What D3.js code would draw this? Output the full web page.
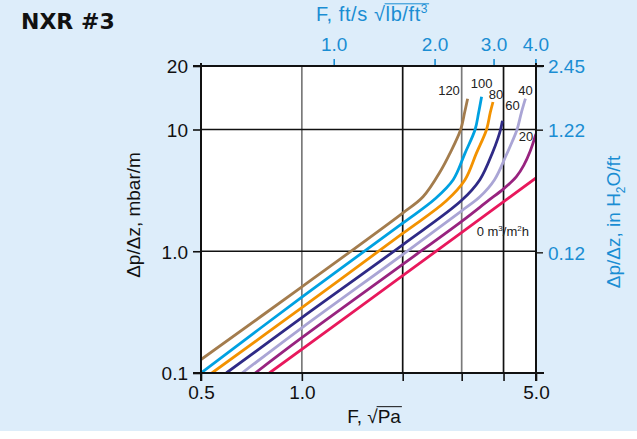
<!DOCTYPE html>
<html><head><meta charset="utf-8">
<script src="https://cdn.jsdelivr.net/npm/d3@7"></script>
<style>
body{margin:0;background:#fff}
svg{display:block}
</style>
</head><body>
<svg id="c" width="637" height="439" font-family="'Liberation Sans',Arial,Helvetica,sans-serif"></svg>
<script>
// ---------- data ----------
const loadLabels = ["0", "20", "40", "60", "80", "100", "120"];   // liquid load, m3/m2h
// each series: [F (sqrt Pa), dp/dz (mbar/m)]
const series0   = [[0.8,0.1],[2.0,0.63],[5.0,4.0]];
const series20  = [[0.726,0.1],[1.0,0.195],[2.0,0.78],[3.0,1.76],[3.6,2.6],[4.0,3.25],[4.37,4.1],[4.6,5.1],[4.8,6.6],[5.0,9.2]];
const series40  = [[0.663,0.1],[1.0,0.235],[2.0,0.94],[3.0,2.15],[3.4,2.8],[3.76,3.87],[4.08,6.2],[4.25,8.0],[4.39,10],[4.52,12],[4.65,14]];
const series60  = [[0.595,0.1],[1.0,0.285],[2.0,1.13],[3.0,2.62],[3.4,3.87],[3.72,6.6],[3.85,8.5],[3.92,10],[3.97,11]];
const series80  = [[0.539,0.1],[1.0,0.345],[2.0,1.40],[2.7,2.6],[3.07,3.87],[3.32,6.4],[3.56,10],[3.65,12],[3.72,13.5]];
const series100 = [[0.5,0.1],[1.0,0.42],[2.0,1.70],[2.5,2.7],[2.83,3.87],[3.07,6.4],[3.29,10],[3.37,12],[3.44,14.3]];
const series120 = [[0.5,0.129],[1.0,0.51],[2.0,2.06],[2.3,2.8],[2.6,4.6],[2.77,6.4],[2.98,10],[3.06,12],[3.125,14]];
const allSeries = [series0, series20, series40, series60, series80, series100, series120];

const bottomTicks  = [0.5, 1, 2, 3, 4, 5];
const bottomLabels = ["0.5", "1.0", "", "", "", "5.0"];
const leftTicks    = [0.1, 1, 10, 20];
const leftLabels   = ["0.1", "1.0", "10", "20"];
const topTicks     = [1, 2, 3, 4];            // F in ft/s sqrt(lb/ft3)
const topLabels    = ["1.0", "2.0", "3.0", "4.0"];
const rightTicks   = [2.45, 1.22, 0.12];      // in H2O/ft
const gridXValues  = [1, 2, 3, 4];
const gridYValues  = [1, 10];
const F_US_TO_SI   = 1.245;                   // sqrt(Pa) per ft/s sqrt(lb/ft3) (as drawn)
const INH2O_PER_MBAR = 0.1224;

// ---------- styles ----------
const colors = ["#e8185c", "#98237f", "#aaa5d5", "#2f2a86", "#f39200", "#00a1e1", "#a37c4d"];
const gridColors = ["#7a7a7a", "#111", "#7a7a7a", "#111"];
const BLUE = "#1a8dd3";
const BG = "#ddedfa";

const svg = d3.select("#c");
svg.append("rect").attr("x",0).attr("y",0).attr("width",637).attr("height",431).attr("fill",BG);

const L = 201, R = 536, T = 66, B = 373;
const x = d3.scaleLog().domain([0.5, 5]).range([L, R]);
const y = d3.scaleLog().domain([0.1, 10, 20]).range([B, 129.5, T]);

svg.append("rect").attr("x",L).attr("y",T).attr("width",R-L).attr("height",B-T).attr("fill","#fff");

// grid
svg.append("g").selectAll("line").data(gridXValues).join("line")
  .attr("x1", d=>x(d)).attr("x2", d=>x(d)).attr("y1", T).attr("y2", B)
  .attr("stroke", (d,i)=>gridColors[i]).attr("stroke-width", 1.7);
svg.append("g").selectAll("line").data(gridYValues).join("line")
  .attr("x1", L).attr("x2", R).attr("y1", d=>y(d)).attr("y2", d=>y(d))
  .attr("stroke", "#111").attr("stroke-width", 1.5);

// curves
svg.append("defs").append("clipPath").attr("id","clip")
  .append("rect").attr("x",L).attr("y",T).attr("width",R-L).attr("height",B-T);
const line = d3.line().x(d=>x(d[0])).y(d=>y(d[1])).curve(d3.curveCatmullRom.alpha(0.5));
svg.append("g").attr("clip-path","url(#clip)").selectAll("path").data(allSeries).join("path")
  .attr("d", line).attr("fill","none").attr("stroke",(d,i)=>colors[i]).attr("stroke-width",2.8)
  .attr("stroke-linecap","butt");

// curve labels (placed next to each curve's last point)
const labelOffsets = [null, [-10,7], [0,-3.7], [10,-10.8], [3,-3], [0,-8.4], [-18.6,-3.7]];
allSeries.forEach((s,i)=>{
  if (i===0) return;
  const p = s[s.length-1];
  svg.append("text").attr("x", x(p[0]) + labelOffsets[i][0]).attr("y", y(p[1]) + labelOffsets[i][1])
    .attr("text-anchor","middle").attr("font-size",13).attr("fill","#222").text(loadLabels[i]);
});
// label for zero load
{
  const t = svg.append("text").attr("x", x(3.98)).attr("y", y(1.33)).attr("text-anchor","middle")
    .attr("font-size",13).attr("fill","#222");
  t.append("tspan").text(loadLabels[0] + " m");
  t.append("tspan").attr("font-size",8).attr("dy",-5).text("3");
  t.append("tspan").attr("dy",5).text("/m");
  t.append("tspan").attr("font-size",8).attr("dy",-5).text("2");
  t.append("tspan").attr("dy",5).text("h");
}

// axes
const fs = 19;
const gB = svg.append("g").attr("transform",`translate(0,${B})`)
  .call(d3.axisBottom(x).tickValues(bottomTicks).tickFormat((d,i)=>bottomLabels[i]).tickSize(8).tickSizeOuter(0).tickPadding(5));
const gL = svg.append("g").attr("transform",`translate(${L},0)`)
  .call(d3.axisLeft(y).tickValues(leftTicks).tickFormat((d,i)=>leftLabels[i]).tickSize(8).tickSizeOuter(0).tickPadding(5));
const xTop = d3.scaleLog().domain([0.5/F_US_TO_SI, 5/F_US_TO_SI]).range([L, R]);
const gT = svg.append("g").attr("transform",`translate(0,${T})`)
  .call(d3.axisTop(xTop).tickValues(topTicks).tickFormat((d,i)=>topLabels[i]).tickSize(7).tickSizeOuter(0).tickPadding(8));
const yRight = d3.scaleLog().domain([0.1*INH2O_PER_MBAR, 10*INH2O_PER_MBAR, 20*INH2O_PER_MBAR]).range([B, 129.5, T]);
const gR = svg.append("g").attr("transform",`translate(${R},0)`)
  .call(d3.axisRight(yRight).tickValues(rightTicks).tickFormat(d3.format(".2f")).tickSize(7).tickSizeOuter(0).tickPadding(5));

[gB,gL,gT,gR].forEach(g=>{ g.select(".domain").remove(); g.attr("font-family",null).attr("font-size",fs); g.selectAll("text").attr("font-size",fs); });
gB.selectAll("line").attr("stroke","#111").attr("stroke-width",1.6);
gL.selectAll("line").attr("stroke","#111").attr("stroke-width",1.6);
gB.selectAll("text").attr("fill","#111");
gL.selectAll("text").attr("fill","#111").attr("dy","0.36em");
gT.selectAll("line").attr("stroke",BLUE).attr("stroke-width",1.6);
gT.selectAll("text").attr("fill",BLUE);
gR.selectAll("line").attr("stroke","#333").attr("stroke-width",1.6);
gR.selectAll("text").attr("fill",BLUE).attr("dy","0.36em");

// frame
const frame = svg.append("g").attr("stroke","#111").attr("stroke-width",2);
frame.append("line").attr("x1",L-8).attr("x2",R+8).attr("y1",B).attr("y2",B);
frame.append("line").attr("x1",L-8).attr("x2",R+8).attr("y1",T).attr("y2",T);
frame.append("line").attr("x1",L).attr("x2",L).attr("y1",T-3).attr("y2",B+8);
frame.append("line").attr("x1",R).attr("x2",R).attr("y1",T-3).attr("y2",B+8);

// title
svg.append("text").attr("x",21).attr("y",29).attr("font-size",22).attr("font-weight","bold")
  .attr("font-family","'DejaVu Sans',sans-serif").attr("fill","#111").text("NXR #3");

// helper: text with sqrt and overline
function sqrtLabel(xc, yb, prefix, rad, sup, color, size, ls) {
  const t = svg.append("text").attr("x",xc).attr("y",yb).attr("text-anchor","middle")
    .attr("font-size",size).attr("fill",color).attr("letter-spacing", ls);
  t.append("tspan").text(prefix + "\u221A");
  t.append("tspan").text(rad);
  if (sup) t.append("tspan").attr("font-size",size*0.6).attr("dy",-size*0.4).text(sup);
  const node = t.node();
  const n0 = (prefix + "\u221A").length;
  const total = node.getComputedTextLength();
  const startX = xc - total/2 + node.getSubStringLength(0, n0) - 1;
  const endX = xc + total/2 + 1;
  svg.append("line").attr("x1",startX).attr("x2",endX).attr("y1",yb-size*0.86).attr("y2",yb-size*0.86)
    .attr("stroke",color).attr("stroke-width",1);
}
sqrtLabel(374, 423, "F, ", "Pa", null, "#111", 19, 0);
sqrtLabel(372, 21, "F, ft/s ", "lb/ft", "3", BLUE, 20, 0.6);

// y titles
svg.append("text").attr("transform","translate(140,215) rotate(-90)").attr("text-anchor","middle")
  .attr("font-size",19).attr("fill","#111").text("\u0394p/\u0394z, mbar/m");
{
  const t = svg.append("text").attr("transform","translate(620,222) rotate(-90)").attr("text-anchor","middle")
    .attr("font-size",19).attr("fill",BLUE);
  t.append("tspan").text("\u0394p/\u0394z, in H");
  t.append("tspan").attr("font-size",12).attr("dy",5).text("2");
  t.append("tspan").attr("dy",-5).text("O/ft");
}
</script>
</body></html>
